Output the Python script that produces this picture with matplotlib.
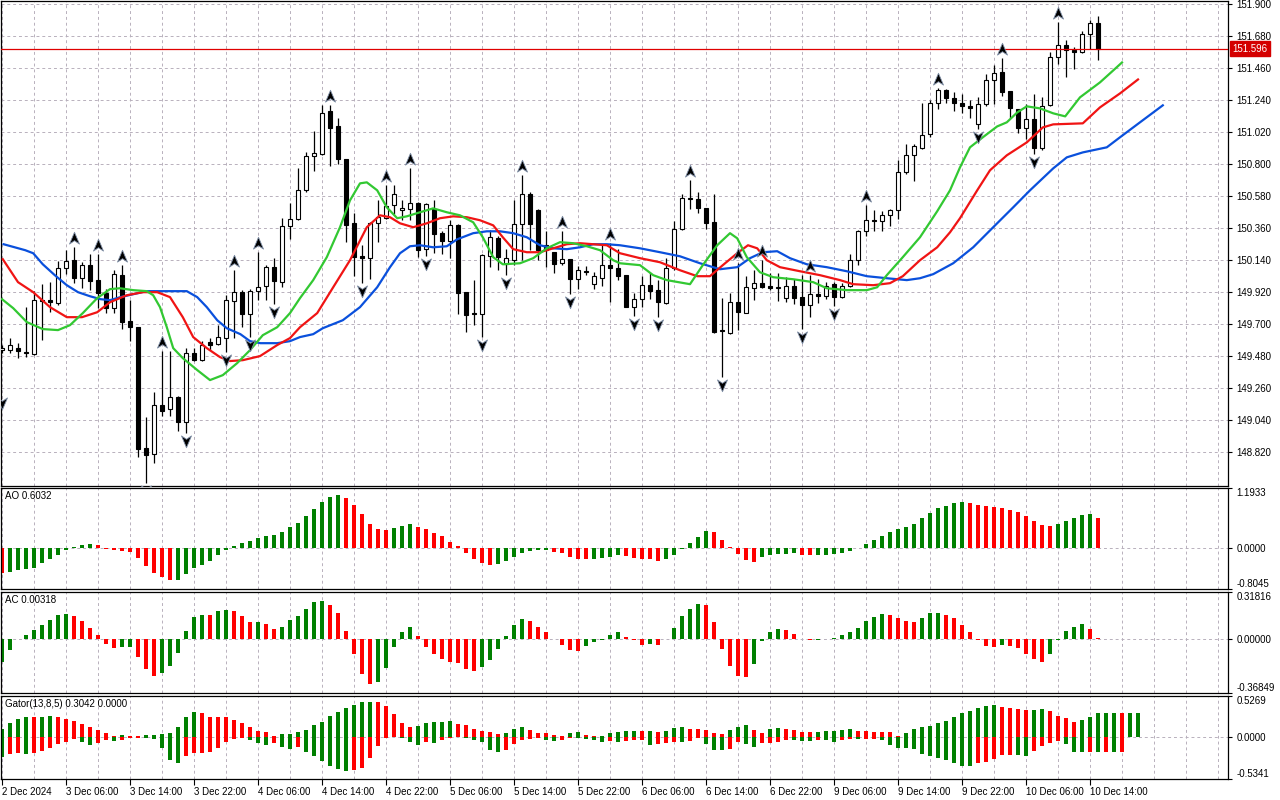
import numpy as np
import matplotlib.pyplot as plt
from matplotlib.path import Path
from matplotlib.transforms import offset_copy

plt.rcParams['font.family'] = ['Liberation Sans', 'DejaVu Sans']

# H1 candles, 2 Dec 22:00 .. 10 Dec 15:00
opens = [149.521, 149.521, 149.535, 149.510, 149.494, 149.863, 149.865, 149.846, 150.083, 150.140,
         150.018, 150.106, 150.003, 149.911, 149.808, 150.037, 149.723, 149.681, 148.845, 148.804,
         149.143, 149.114, 149.200, 149.028, 149.499, 149.453, 149.574, 149.560, 149.602, 149.860,
         149.918, 149.769, 149.927, 149.963, 150.090, 149.991, 150.374, 150.427, 150.621, 150.855,
         150.874, 151.164, 151.061, 150.834, 150.396, 150.170, 150.152, 150.396, 150.431, 150.518,
         150.484, 150.495, 150.537, 150.214, 150.495, 150.328, 150.273, 150.381, 149.918, 149.778,
         149.769, 150.168, 150.293, 150.113, 150.140, 150.392, 150.599, 150.484, 150.243, 150.197,
         150.121, 150.147, 150.014, 150.066, 149.973, 150.016, 150.110, 150.087, 150.037, 149.819,
         149.870, 149.966, 149.934, 149.846, 150.083, 150.353, 150.571, 150.564, 150.502, 150.403,
         149.659, 149.640, 149.853, 149.780, 149.952, 149.980, 149.961, 149.950, 149.881, 149.961,
         149.888, 149.835, 149.906, 149.897, 149.975, 149.888, 149.961, 150.140, 150.339, 150.415,
         150.410, 150.454, 150.489, 150.747, 150.862, 150.915, 151.011, 151.221, 151.314, 151.259,
         151.224, 151.204, 151.075, 151.213, 151.378, 151.435, 151.304, 151.183, 151.050, 151.114,
         150.912, 151.206, 151.538, 151.623, 151.584, 151.572, 151.694, 151.774]
highs = [149.556, 149.602, 149.567, 149.815, 149.927, 149.973, 149.991, 150.133, 150.209, 150.231,
         150.128, 150.181, 150.186, 149.945, 150.076, 150.106, 149.865, 149.681, 149.059, 149.235,
         149.516, 149.514, 149.205, 149.533, 149.533, 149.585, 149.602, 149.693, 149.904, 150.071,
         149.934, 149.939, 150.197, 150.106, 150.157, 150.431, 150.534, 150.777, 150.883, 151.029,
         151.210, 151.210, 151.118, 150.834, 150.465, 150.243, 150.403, 150.553, 150.656, 150.656,
         150.553, 150.775, 150.541, 150.534, 150.557, 150.339, 150.415, 150.392, 149.918, 150.007,
         150.186, 150.351, 150.305, 150.220, 150.553, 150.724, 150.610, 150.495, 150.339, 150.197,
         150.341, 150.147, 150.099, 150.099, 150.060, 150.255, 150.259, 150.214, 150.037, 149.915,
         150.030, 150.053, 150.007, 150.152, 150.410, 150.599, 150.690, 150.610, 150.502, 150.599,
         149.877, 149.915, 150.119, 150.030, 150.076, 150.140, 150.053, 150.049, 150.025, 150.014,
         150.037, 150.037, 150.014, 149.991, 149.991, 149.980, 150.181, 150.346, 150.518, 150.484,
         150.479, 150.495, 150.828, 150.938, 150.938, 151.221, 151.245, 151.327, 151.320, 151.297,
         151.286, 151.240, 151.263, 151.419, 151.481, 151.534, 151.304, 151.183, 151.213, 151.286,
         151.263, 151.572, 151.778, 151.653, 151.606, 151.721, 151.790, 151.824]
lows = [149.501, 149.499, 149.464, 149.475, 149.487, 149.590, 149.785, 149.831, 150.042, 149.980,
        149.952, 149.934, 149.808, 149.774, 149.774, 149.670, 149.585, 148.788, 148.605, 148.742,
        149.070, 149.068, 148.966, 148.953, 149.448, 149.448, 149.521, 149.556, 149.510, 149.602,
        149.681, 149.613, 149.865, 149.865, 149.842, 149.956, 150.289, 150.420, 150.610, 150.754,
        150.862, 150.788, 150.800, 150.266, 150.030, 149.980, 150.014, 150.266, 150.427, 150.461,
        150.415, 150.415, 150.163, 150.168, 150.190, 150.181, 150.152, 149.769, 149.647, 149.693,
        149.613, 150.094, 150.071, 150.037, 150.106, 150.140, 150.209, 150.140, 150.092, 150.053,
        150.106, 149.906, 149.939, 150.037, 149.945, 149.961, 149.853, 150.007, 149.815, 149.757,
        149.819, 149.870, 149.746, 149.838, 150.071, 150.346, 150.495, 150.465, 150.358, 149.640,
        149.338, 149.631, 149.659, 149.774, 149.865, 149.952, 149.934, 149.860, 149.853, 149.838,
        149.670, 149.746, 149.846, 149.870, 149.824, 149.877, 149.956, 150.106, 150.305, 150.341,
        150.341, 150.374, 150.427, 150.731, 150.685, 150.908, 150.988, 151.183, 151.221, 151.166,
        151.153, 151.121, 151.045, 151.199, 151.213, 151.268, 151.121, 151.015, 150.977, 150.874,
        150.901, 151.199, 151.488, 151.400, 151.458, 151.565, 151.595, 151.515]
closes = [149.535, 149.554, 149.512, 149.501, 149.865, 149.856, 149.849, 150.083, 150.135, 150.018,
          150.104, 149.998, 149.911, 149.808, 150.042, 149.716, 149.677, 148.839, 148.799, 149.143,
          149.104, 149.196, 149.028, 149.499, 149.453, 149.556, 149.556, 149.609, 149.865, 149.918,
          149.769, 149.927, 149.956, 150.090, 149.998, 150.374, 150.427, 150.621, 150.855, 150.878,
          151.155, 151.052, 150.834, 150.381, 150.163, 150.152, 150.396, 150.434, 150.511, 150.599,
          150.500, 150.537, 150.209, 150.530, 150.319, 150.273, 150.381, 149.915, 149.762, 149.769,
          150.174, 150.300, 150.163, 150.152, 150.392, 150.599, 150.392, 150.209, 150.209, 150.117,
          150.147, 150.014, 150.071, 150.058, 150.030, 150.110, 150.087, 150.030, 149.819, 149.870,
          149.966, 149.929, 149.853, 150.087, 150.358, 150.571, 150.561, 150.502, 150.399, 149.647,
          149.650, 149.853, 149.785, 149.956, 149.980, 149.956, 149.950, 149.956, 149.961, 149.881,
          149.835, 149.906, 149.897, 149.965, 149.884, 149.961, 150.140, 150.339, 150.415, 150.408,
          150.454, 150.484, 150.747, 150.862, 150.924, 151.004, 151.221, 151.314, 151.259, 151.224,
          151.204, 151.190, 151.213, 151.378, 151.428, 151.297, 151.187, 151.050, 151.114, 150.912,
          151.199, 151.538, 151.623, 151.584, 151.575, 151.694, 151.774, 151.596]
last_price = 151.596

# Alligator lines (bar position, price), already shifted forward
jaw_x = [0.2, 2.9, 3.9, 5.1, 6.6, 8.1, 9.5, 11.0, 12.3, 13.5, 14.8, 16.4, 18.1, 23.1, 24.4, 25.6,
         26.9, 28.1, 29.8, 31.0, 32.3, 34.4, 36.0, 37.25, 38.9, 40.1, 42.6, 44.75, 46.9, 48.5, 49.75,
         51.0, 52.25, 53.9, 55.6, 56.9, 58.9, 60.6, 62.25, 63.9, 65.6, 67.25, 68.9, 70.6, 72.25, 73.9,
         75.6, 77.25, 79.75, 82.25, 84.75, 87.25, 89.75, 91.9, 93.5, 95.1, 96.9, 98.5, 100.6, 103.1,
         105.6, 108.1, 110.6, 113.1, 114.75, 116.4, 118.9, 121.4, 123.9, 126.4, 128.5, 131.4, 133.1,
         135.1, 138.1, 139.75, 142.25, 145.1]
jaw_y = [150.250, 150.209, 150.188, 150.112, 150.037, 149.968, 149.920, 149.892, 149.872, 149.865,
         149.886, 149.906, 149.927, 149.927, 149.886, 149.817, 149.727, 149.672, 149.631, 149.583,
         149.569, 149.569, 149.583, 149.611, 149.631, 149.672, 149.727, 149.817, 149.954, 150.092,
         150.188, 150.236, 150.243, 150.229, 150.236, 150.284, 150.326, 150.339, 150.339, 150.326,
         150.298, 150.243, 150.222, 150.216, 150.229, 150.250, 150.250, 150.243, 150.222, 150.195,
         150.167, 150.119, 150.078, 150.092, 150.154, 150.195, 150.202, 150.154, 150.112, 150.092,
         150.064, 150.030, 150.016, 150.003, 150.016, 150.044, 150.119, 150.229, 150.367, 150.504,
         150.621, 150.772, 150.848, 150.882, 150.917, 150.986, 151.089, 151.206]
teeth_x = [0.1, 2.0, 3.9, 6.0, 8.1, 10.0, 11.9, 13.5, 15.6, 17.6, 19.4, 21.0, 22.6, 23.9, 25.6,
           27.25, 28.5, 30.1, 32.25, 34.4, 36.0, 37.25, 39.4, 41.4, 43.5, 45.6, 47.25, 48.5, 49.75,
           51.4, 53.1, 54.75, 56.4, 58.1, 59.75, 61.4, 62.6, 63.9, 65.6, 67.25, 68.9, 70.6, 72.25,
           73.9, 75.6, 77.25, 79.75, 82.25, 84.75, 86.9, 88.5, 90.1, 91.9, 93.25, 94.4, 95.6, 97.25,
           99.75, 102.25, 104.75, 106.4, 108.9, 111.0, 112.6, 114.75, 116.9, 118.5, 119.75, 121.9,
           123.5, 125.6, 128.1, 130.1, 131.4, 135.1, 137.25, 139.75, 142.0]
teeth_y = [150.147, 149.989, 149.920, 149.817, 149.748, 149.748, 149.782, 149.851, 149.899, 149.920,
           149.920, 149.886, 149.748, 149.611, 149.535, 149.473, 149.446, 149.452, 149.480, 149.556,
           149.604, 149.679, 149.776, 149.954, 150.140, 150.367, 150.449, 150.436, 150.394, 150.367,
           150.394, 150.429, 150.442, 150.436, 150.415, 150.380, 150.298, 150.216, 150.195, 150.195,
           150.222, 150.250, 150.257, 150.250, 150.243, 150.188, 150.154, 150.126, 150.071, 150.030,
           150.030, 150.106, 150.188, 150.243, 150.222, 150.140, 150.092, 150.064, 150.037, 150.003,
           149.975, 149.968, 149.982, 150.030, 150.140, 150.229, 150.332, 150.429, 150.621, 150.759,
           150.862, 150.951, 151.054, 151.075, 151.082, 151.192, 151.288, 151.384]
lips_x = [0, 1.4, 3.1, 5.1, 7.0, 8.5, 10.1, 11.9, 13.5, 14.75, 16.4, 18.1, 18.9, 19.75, 20.6, 21.4,
          22.6, 24.4, 26.0, 27.6, 29.4, 31.0, 32.6, 34.4, 36.0, 37.25, 38.9, 40.6, 42.25, 43.5, 44.75,
          45.6, 46.9, 48.1, 49.4, 50.6, 52.25, 53.9, 55.6, 57.25, 58.9, 60.1, 61.4, 62.6, 64.75, 66.4,
          68.1, 69.75, 71.4, 73.1, 74.75, 76.4, 77.25, 79.75, 81.4, 83.1, 86.0, 87.6, 89.4, 91.0, 91.9,
          93.1, 94.75, 96.4, 98.9, 101.4, 103.1, 105.6, 108.1, 109.4, 110.6, 112.6, 114.75, 116.9,
          118.5, 119.75, 121.0, 122.6, 124.4, 125.6, 126.9, 128.1, 129.75, 131.4, 132.9, 134.75,
          137.25, 138.9, 140.0]
lips_y = [149.872, 149.810, 149.714, 149.666, 149.659, 149.693, 149.776, 149.879, 149.941, 149.947,
          149.934, 149.927, 149.899, 149.817, 149.679, 149.535, 149.466, 149.384, 149.315, 149.349,
          149.432, 149.521, 149.624, 149.679, 149.776, 149.879, 150.003, 150.161, 150.367, 150.552,
          150.669, 150.676, 150.621, 150.504, 150.429, 150.442, 150.470, 150.497, 150.470, 150.449,
          150.401, 150.298, 150.161, 150.112, 150.119, 150.154, 150.222, 150.264, 150.257, 150.236,
          150.209, 150.140, 150.119, 150.106, 150.037, 150.003, 149.975, 150.106, 150.243, 150.326,
          150.291, 150.161, 150.057, 150.023, 150.009, 149.989, 149.947, 149.934, 149.934, 149.954,
          150.037, 150.161, 150.298, 150.477, 150.621, 150.779, 150.917, 150.986, 151.061, 151.089,
          151.157, 151.199, 151.185, 151.151, 151.130, 151.261, 151.364, 151.446, 151.501]

# fractal bars
frac_up = [9, 12, 15, 20, 29, 32, 41, 48, 51, 65, 70, 76, 86, 92, 95, 101, 108, 117, 125, 132]
frac_dn = [18, 23, 28, 31, 34, 45, 53, 60, 63, 71, 79, 82, 90, 100, 104, 122, 129]
frac_dn_edge = [(0, 149.21)]

ao = [-0.48, -0.47, -0.43, -0.41, -0.39, -0.29, -0.22, -0.13, -0.03, 0.02,
      0.06, 0.08, 0.06, -0.01, -0.03, -0.05, -0.08, -0.19, -0.35, -0.49,
      -0.57, -0.63, -0.62, -0.51, -0.39, -0.33, -0.26, -0.13, -0.03, 0.04,
      0.10, 0.145, 0.20, 0.24, 0.26, 0.32, 0.42, 0.51, 0.63, 0.77,
      0.91, 1.01, 1.05, 0.99, 0.85, 0.67, 0.49, 0.38, 0.36, 0.40,
      0.45, 0.49, 0.43, 0.38, 0.30, 0.24, 0.125, 0.04, -0.10, -0.21,
      -0.30, -0.33, -0.31, -0.26, -0.17, -0.09, -0.05, -0.03, -0.025, -0.07,
      -0.09, -0.17, -0.21, -0.212, -0.205, -0.20, -0.17, -0.13, -0.15, -0.20,
      -0.21, -0.215, -0.25, -0.21, -0.14, -0.005, 0.10, 0.23, 0.34, 0.32,
      0.16, 0.02, -0.12, -0.23, -0.27, -0.17, -0.14, -0.12, -0.11, -0.10,
      -0.13, -0.135, -0.13, -0.125, -0.11, -0.09, -0.05, 0.01, 0.08, 0.165,
      0.25, 0.32, 0.38, 0.43, 0.49, 0.60, 0.69, 0.79, 0.84, 0.90,
      0.91, 0.905, 0.86, 0.83, 0.82, 0.79, 0.76, 0.72, 0.64, 0.55,
      0.455, 0.45, 0.49, 0.55, 0.60, 0.66, 0.67, 0.6032]
ao_before = -0.45

ac = [-0.161, -0.073, -0.004, 0.027, 0.057, 0.095, 0.129, 0.163, 0.170, 0.156,
      0.122, 0.075, 0.027, -0.032, -0.061, -0.058, -0.056, -0.122, -0.202, -0.252,
      -0.231, -0.184, -0.095, 0.050, 0.150, 0.163, 0.162, 0.188, 0.197, 0.190,
      0.156, 0.111, 0.116, 0.102, 0.068, 0.082, 0.129, 0.156, 0.204, 0.247,
      0.258, 0.233, 0.177, 0.050, -0.100, -0.242, -0.304, -0.297, -0.197, -0.059,
      0.043, 0.082, 0.020, -0.054, -0.104, -0.134, -0.161, -0.162, -0.208, -0.222,
      -0.195, -0.147, -0.066, 0.020, 0.095, 0.136, 0.122, 0.082, 0.049, -0.004,
      -0.039, -0.079, -0.086, -0.052, -0.023, -0.005, 0.027, 0.048, 0.014, -0.011,
      -0.039, -0.032, -0.040, -0.004, 0.075, 0.156, 0.204, 0.238, 0.231, 0.116,
      -0.068, -0.188, -0.256, -0.263, -0.174, -0.018, 0.048, 0.068, 0.057, 0.034,
      -0.003, -0.011, -0.009, 0.000, 0.007, 0.027, 0.043, 0.075, 0.118, 0.150,
      0.170, 0.163, 0.143, 0.122, 0.116, 0.143, 0.172, 0.177, 0.163, 0.143,
      0.095, 0.043, -0.011, -0.052, -0.059, -0.045, -0.052, -0.060, -0.100, -0.134,
      -0.161, -0.100, -0.011, 0.054, 0.082, 0.102, 0.068, 0.00318]
ac_before = -0.2

gator_up = [0.111, 0.187, 0.234, 0.264, 0.262, 0.264, 0.266, 0.264, 0.239, 0.213,
            0.175, 0.136, 0.098, 0.051, 0.013, 0.034, 0.021, 0.017, 0.026, 0.034,
            0.038, 0.060, 0.136, 0.256, 0.328, 0.315, 0.264, 0.262, 0.260, 0.226,
            0.179, 0.136, 0.081, 0.068, 0.021, 0.038, 0.040, 0.068, 0.098, 0.153,
            0.196, 0.268, 0.328, 0.379, 0.417, 0.452, 0.456, 0.454, 0.396, 0.294,
            0.187, 0.136, 0.138, 0.179, 0.198, 0.200, 0.202, 0.166, 0.153, 0.111,
            0.085, 0.068, 0.038, 0.055, 0.111, 0.136, 0.098, 0.060, 0.055, 0.026,
            0.021, 0.060, 0.062, 0.030, 0.017, 0.021, 0.051, 0.064, 0.077, 0.085,
            0.077, 0.081, 0.064, 0.085, 0.119, 0.128, 0.111, 0.109, 0.098, 0.060,
            0.038, 0.098, 0.136, 0.153, 0.089, 0.060, 0.111, 0.119, 0.111, 0.089,
            0.072, 0.070, 0.072, 0.075, 0.077, 0.098, 0.100, 0.077, 0.075, 0.072,
            0.070, 0.064, 0.013, 0.060, 0.111, 0.136, 0.149, 0.179, 0.213, 0.264,
            0.307, 0.341, 0.375, 0.405, 0.407, 0.392, 0.371, 0.362, 0.345, 0.347,
            0.362, 0.332, 0.277, 0.243, 0.200, 0.217, 0.260, 0.3042, 0.3050, 0.3060,
            0.3055, 0.3060, 0.3065]
gator_dn = [-0.256, -0.217, -0.196, -0.217, -0.200, -0.179, -0.141, -0.089, -0.055, -0.021,
            -0.064, -0.094, -0.072, -0.038, -0.051, -0.034, -0.013, -0.009, -0.013, -0.017,
            -0.141, -0.294, -0.328, -0.243, -0.204, -0.196, -0.183, -0.141, -0.060, -0.017,
            -0.009, -0.030, -0.077, -0.102, -0.077, -0.128, -0.149, -0.128, -0.183, -0.243,
            -0.307, -0.362, -0.400, -0.435, -0.422, -0.388, -0.264, -0.115, -0.009, -0.002,
            -0.013, -0.064, -0.094, -0.064, -0.077, -0.030, -0.004, -0.002, -0.013, -0.030,
            -0.064, -0.166, -0.187, -0.166, -0.089, -0.038, -0.026, -0.013, -0.030, -0.051,
            -0.034, -0.013, -0.015, -0.021, -0.038, -0.064, -0.051, -0.064, -0.051, -0.038,
            -0.036, -0.102, -0.081, -0.077, -0.064, -0.066, -0.051, -0.009, -0.085, -0.158,
            -0.166, -0.149, -0.064, -0.081, -0.124, -0.077, -0.072, -0.055, -0.038, -0.040,
            -0.043, -0.045, -0.038, -0.040, -0.064, -0.038, -0.026, -0.028, -0.021, -0.017,
            -0.038, -0.098, -0.141, -0.143, -0.145, -0.213, -0.243, -0.260, -0.285, -0.328,
            -0.362, -0.364, -0.328, -0.311, -0.277, -0.226, -0.224, -0.226, -0.243, -0.179,
            -0.115, -0.072, -0.051, -0.089, -0.183, -0.187, -0.183, -0.192, -0.187, -0.192,
            -0.190]
gator_up_before = 0.09
gator_dn_before = -0.23

price_ticks = [151.900, 151.680, 151.460, 151.240, 151.020, 150.800, 150.580, 150.360,
               150.140, 149.920, 149.700, 149.480, 149.260, 149.040, 148.820]
time_labels = ['2 Dec 2024', '3 Dec 06:00', '3 Dec 14:00', '3 Dec 22:00', '4 Dec 06:00',
               '4 Dec 14:00', '4 Dec 22:00', '5 Dec 06:00', '5 Dec 14:00', '5 Dec 22:00',
               '6 Dec 06:00', '6 Dec 14:00', '6 Dec 22:00', '9 Dec 06:00', '9 Dec 14:00',
               '9 Dec 22:00', '10 Dec 06:00', '10 Dec 14:00']

GREEN = '#008000'
RED = '#ff0000'
GRID = '#b8b0bc'
FS = 7

W, H = 1280, 800
fig = plt.figure(figsize=(12.8, 8), dpi=100)


def panel(top, bottom):
    ax = fig.add_axes([1 / W, 1 - bottom / H, 1227 / W, (bottom - top) / H])
    ax.set_xlim(-0.125, 153.25)
    for s in ax.spines.values():
        s.set_color('black')
        s.set_linewidth(0.9)
    for k in range(0, 153, 4):
        ax.axvline(k, color=GRID, lw=0.7, ls=(0, (3, 3)), zorder=0)
    ax.set_xticks([])
    ax.yaxis.tick_right()
    ax.tick_params(axis='y', length=3, width=0.8, pad=3, labelsize=FS)
    return ax


def sub_axis(ax, top, bottom, labels):
    ax.set_ylim(bottom, top)
    ax.set_yticks([top, 0, bottom])
    ax.set_yticklabels(labels)
    tl = ax.get_yticklabels()
    tl[0].set_va('top')
    tl[-1].set_va('bottom')
    ax.axhline(0, color=GRID, lw=0.7, ls=(0, (3, 3)), zorder=0)


def up_down(vals, before):
    d = np.diff(np.concatenate([[before], vals]))
    return np.where(d > 0, GREEN, RED)


main = panel(0.5, 486)
ao_ax = panel(488, 589)
ac_ax = panel(592, 693)
gt_ax = panel(696, 779)

# main chart
main.set_ylim(148.586, 151.9275)
main.set_yticks(price_ticks)
main.set_yticklabels([f'{p:.3f}' for p in price_ticks])
for p in price_ticks:
    main.axhline(p, color=GRID, lw=0.7, ls=(0, (3, 3)), zorder=0)

o = np.array(opens)
hi = np.array(highs)
lo = np.array(lows)
c = np.array(closes)
idx = np.arange(len(o))
bull = c >= o
main.vlines(idx, lo, hi, color='black', lw=0.9, zorder=3)
main.bar(idx, c - o, bottom=o, width=0.56, color=np.where(bull, 'white', 'black'),
         edgecolor='black', lw=0.8, zorder=4)

main.plot(jaw_x, jaw_y, color='#0a50dc', lw=1.6, zorder=5)
main.plot(teeth_x, teeth_y, color='#f01414', lw=1.6, zorder=5)
main.plot(lips_x, lips_y, color='#32c832', lw=1.6, zorder=5)

main.axhline(last_price, color='#e00000', lw=0.9, zorder=6)
main.annotate(f'{last_price:.3f}', xy=(1, last_price), xycoords=('axes fraction', 'data'),
              xytext=(4, 0), textcoords='offset pixels', ha='left', va='center',
              color='white', fontsize=FS, annotation_clip=False,
              bbox=dict(boxstyle='square,pad=0.25', fc='#d40000', ec='#d40000'))

# fractal arrows
arrow_up = Path([(0, 1), (0.8, -0.9), (0, -0.35), (-0.8, -0.9), (0, 1)],
                [Path.MOVETO, Path.LINETO, Path.LINETO, Path.LINETO, Path.CLOSEPOLY])
arrow_dn = Path([(0, -1), (0.8, 0.9), (0, 0.35), (-0.8, 0.9), (0, -1)],
                [Path.MOVETO, Path.LINETO, Path.LINETO, Path.LINETO, Path.CLOSEPOLY])
up_tr = offset_copy(main.transData, fig=fig, x=0, y=9, units='dots')
dn_tr = offset_copy(main.transData, fig=fig, x=0, y=-8, units='dots')
main.plot(frac_up, hi[frac_up], ls='none', marker=arrow_up, ms=9, mfc='black',
          mec='#8090a8', mew=0.6, transform=up_tr, zorder=7)
dn_x = frac_dn + [e[0] for e in frac_dn_edge]
dn_y = list(lo[frac_dn]) + [e[1] for e in frac_dn_edge]
main.plot(dn_x, dn_y, ls='none', marker=arrow_dn, ms=9, mfc='black',
          mec='#8090a8', mew=0.6, transform=dn_tr, zorder=7)

# Awesome oscillator
sub_axis(ao_ax, 1.1933, -0.8045, ['1.1933', '0.0000', '-0.8045'])
ao_ax.bar(np.arange(len(ao)), ao, width=0.5, color=up_down(ao, ao_before), zorder=2)
ao_ax.annotate('AO 0.6032', xy=(0, 1), xycoords='axes fraction', xytext=(4, -3),
               textcoords='offset pixels', ha='left', va='top', fontsize=FS)

# Accelerator oscillator
sub_axis(ac_ax, 0.31816, -0.36849, ['0.31816', '0.00000', '-0.36849'])
ac_ax.bar(np.arange(len(ac)), ac, width=0.5, color=up_down(ac, ac_before), zorder=2)
ac_ax.annotate('AC 0.00318', xy=(0, 1), xycoords='axes fraction', xytext=(4, -3),
               textcoords='offset pixels', ha='left', va='top', fontsize=FS)

# Gator oscillator
sub_axis(gt_ax, 0.5269, -0.5341, ['0.5269', '0.0000', '-0.5341'])
gt_ax.bar(np.arange(len(gator_up)), gator_up, width=0.6,
          color=up_down(gator_up, gator_up_before), zorder=2)
gd = np.abs(gator_dn)
gt_ax.bar(np.arange(len(gator_dn)), gator_dn, width=0.6,
          color=up_down(gd, abs(gator_dn_before)), zorder=2)
gt_ax.annotate('Gator(13,8,5) 0.3042 0.0000', xy=(0, 1), xycoords='axes fraction',
               xytext=(4, -3), textcoords='offset pixels', ha='left', va='top', fontsize=FS)

gt_ax.set_xticks(np.arange(len(time_labels)) * 8)
gt_ax.set_xticklabels(time_labels, ha='left')
gt_ax.tick_params(axis='x', length=4, width=0.8, pad=2, labelsize=FS)

fig.savefig('out.png', dpi=100)
